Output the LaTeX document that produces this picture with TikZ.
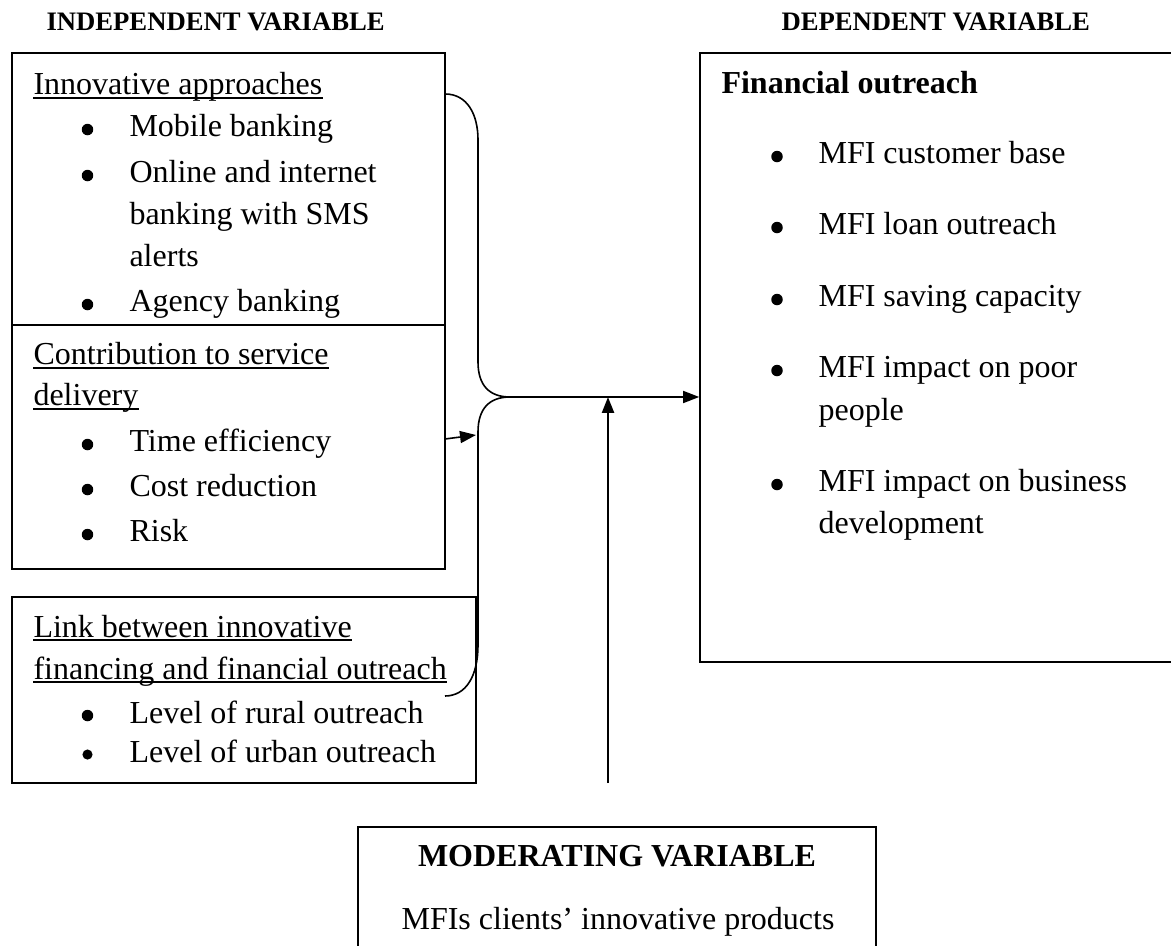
\documentclass[tikz,border=0pt]{standalone}
\usepackage{fontspec}
\setmainfont{Liberation Serif}
\usetikzlibrary{arrows.meta,fit}
\begin{document}
\begin{tikzpicture}[x=0.375pt,y=-0.375pt,
  box/.style={draw, line width=0.6pt, inner sep=0pt},
  txt/.style={inner sep=0pt, anchor=base west, font=\fontsize{12}{14}\selectfont},
  bold/.style={txt, font=\fontsize{12}{14}\selectfont\bfseries},
  head/.style={inner sep=0pt, anchor=base west, font=\fontsize{10}{12}\selectfont\bfseries},
  bul/.style={circle, fill, draw=none, inner sep=0pt, minimum size=4.3pt, yshift=2.8pt},
  ul/.style={line width=0.5pt},
  link/.style={line width=0.6pt},
  arr/.style={line width=0.6pt, -{Triangle[length=6pt,width=4.5pt]}},
  thickarr/.style={line width=0.9pt, -{Triangle[length=6pt,width=4.5pt]}}]
\useasboundingbox (0,0) rectangle (1171,946);
\clip (0,0) rectangle (1171,946);

% headings
\node[head] (hind) at (46,31) {INDEPENDENT VARIABLE};
\node[head] (hdep) at (781,31) {DEPENDENT VARIABLE};

% boxes
\node[box, fit={(12,53) (445,325)}] (b1) {};
\node[box, fit={(12,325) (445,569)}] (b2) {};
\node[box, fit={(12,597) (476,783)}] (b3) {};
\node[box, fit={(700,53) (1200,662)}] (dep) {};
\node[box, fit={(358,827) (876,980)}] (mod) {};

% box 1
\node[txt] (t1) at (33,95) {Innovative approaches};
\draw[ul] ([yshift=-1.1pt]t1.base west) -- ([yshift=-1.1pt]t1.base east);
\node[bul] (u1) at (87.5,137) {};
\node[txt] (t1a) at (129,137) {Mobile banking};
\node[bul] (u2) at (87.5,183) {};
\node[txt] (t1b) at (129,183) {Online and internet};
\node[txt] (t1c) at (129,225) {banking with SMS};
\node[txt] (t1d) at (129,267) {alerts};
\node[bul] (u3) at (87.5,312) {};
\node[txt] (t1e) at (129,312) {Agency banking};

% box 2
\node[txt] (t2) at (33,365) {Contribution to service};
\draw[ul] ([yshift=-1.1pt]t2.base west) -- ([yshift=-1.1pt]t2.base east);
\node[txt] (t2x) at (33,406) {delivery};
\draw[ul] ([yshift=-1.1pt]t2x.base west) -- ([yshift=-1.1pt]t2x.base east);
\node[bul] (u4) at (87.5,452) {};
\node[txt] (t2a) at (129,452) {Time efficiency};
\node[bul] (u5) at (87.5,497) {};
\node[txt] (t2b) at (129,497) {Cost reduction};
\node[bul] (u6) at (87.5,542) {};
\node[txt] (t2c) at (129,542) {Risk};

% box 3
\node[txt] (t3) at (33,637) {Link between innovative};
\draw[ul] ([yshift=-1.1pt]t3.base west) -- ([yshift=-1.1pt]t3.base east);
\node[txt] (t3x) at (33,679) {financing and financial outreach};
\draw[ul] ([yshift=-1.1pt]t3x.base west) -- ([yshift=-1.1pt]t3x.base east);
\node[bul] (u7) at (87.5,723) {};
\node[txt] (t3a) at (129,723) {Level of rural outreach};
\node[bul, minimum size=3.8pt] (u8) at (87.5,762) {};
\node[txt] (t3b) at (129,762) {Level of urban outreach};

% dependent
\node[bold] (d0) at (721,94) {Financial outreach};
\node[bul] (v1) at (777,164) {};
\node[txt] (d1) at (818,164) {MFI customer base};
\node[bul] (v2) at (777,235) {};
\node[txt] (d2) at (818,235) {MFI loan outreach};
\node[bul] (v3) at (777,307) {};
\node[txt] (d3) at (818,307) {MFI saving capacity};
\node[bul] (v4) at (777,378) {};
\node[txt] (d4) at (818,378) {MFI impact on poor};
\node[txt] (d4b) at (818,421) {people};
\node[bul] (v5) at (777,492) {};
\node[txt] (d5) at (818,492) {MFI impact on business};
\node[txt] (d5b) at (818,534) {development};

% moderating
\node[bold, anchor=base] (m0) at (617,866) {MODERATING VARIABLE};
\node[txt, anchor=base] (m1) at (618,929) {MFIs clients’ innovative products};

% brace
\coordinate (tip) at (510,397);
\draw[link] (445,94) .. controls (467,94) and (478,114) .. (478,140)
  -- (478,362) .. controls (478,385) and (489,397) .. (tip)
  .. controls (489,397) and (478,409) .. (478,432)
  -- (478,645) .. controls (478,676) and (466,696) .. (445,696);

% connectors
\coordinate (b2out) at (445,439);
\coordinate (b2in) at (476,435);
\draw[arr] (b2out) -- (b2in);
\draw[arr] (tip) -- (tip -| dep.west);
\coordinate (modtop) at (608,783);
\draw[thickarr] (modtop) -- (modtop |- tip);
\end{tikzpicture}
\end{document}
